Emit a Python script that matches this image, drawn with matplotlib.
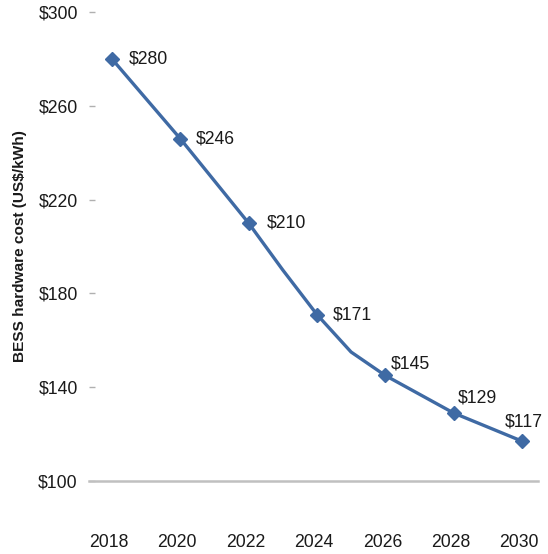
import numpy as np
import matplotlib
matplotlib.use("Agg")
import matplotlib.pyplot as plt
import matplotlib.transforms as mtransforms

plt.rcParams['font.family'] = ['Liberation Sans', 'DejaVu Sans']

# yearly cost curve (markers only on even years)
years = [2018, 2019, 2020, 2021, 2022, 2023, 2024, 2025, 2026, 2027, 2028, 2029, 2030]
cost = [280, 263, 246, 228, 210, 190, 171, 155, 145, 137, 129, 123, 117]

label_years = [2018, 2020, 2022, 2024, 2026, 2028, 2030]
label_costs = [280, 246, 210, 171, 145, 129, 117]
label_offsets = [(17, 0), (16, 0), (18, 0), (16, 0), (6, 11), (4, 15), (-17, 19)]

y_ticks = [100, 140, 180, 220, 260, 300]

line_color = '#3F6AA4'
text_color = '#1a1a1a'

fig = plt.figure(figsize=(5.48, 5.54), dpi=100)
ax = fig.add_axes([89 / 548, 1 - 481 / 554, (538 - 89) / 548, (481 - 12) / 554])

ax.plot(years, cost, color=line_color, lw=2.4, zorder=3)
ax.plot(label_years, label_costs, ls='none', marker='D', ms=7,
        color=line_color, zorder=4)

for yr, c, (dx, dy) in zip(label_years, label_costs, label_offsets):
    ax.annotate(f'${c}', (yr, c), xytext=(dx, dy), textcoords='offset pixels',
                ha='left', va='center', fontsize=12.7, color=text_color)

ax.set_xlim(2017.33, 2030.47)
ax.set_ylim(100, 300)
ax.set_xticks(label_years)
ax.set_yticks(y_ticks)
ax.set_yticklabels([f'${v}' for v in y_ticks])

for s in ['top', 'right', 'left']:
    ax.spines[s].set_visible(False)
ax.spines['bottom'].set_color('#C0C0C0')
ax.spines['bottom'].set_linewidth(1.8)

ax.tick_params(axis='y', direction='in', length=4.5, width=1, color='#B0B0B0',
               pad=8, labelsize=12.7, labelcolor=text_color)
ax.tick_params(axis='x', length=0, pad=38, labelsize=12.7, labelcolor=text_color)

# year labels sit a little left of the markers
shift = mtransforms.ScaledTranslation(-3 / 100, 0, fig.dpi_scale_trans)
for lbl in ax.get_xticklabels():
    lbl.set_transform(lbl.get_transform() + shift)

ax.set_ylabel('BESS hardware cost (US$/kWh)', fontsize=11.1, fontweight='bold',
              color=text_color)
ax.yaxis.set_label_coords(-(89 - 27) / 449, 0.5)

fig.savefig('out.png', dpi=100)
